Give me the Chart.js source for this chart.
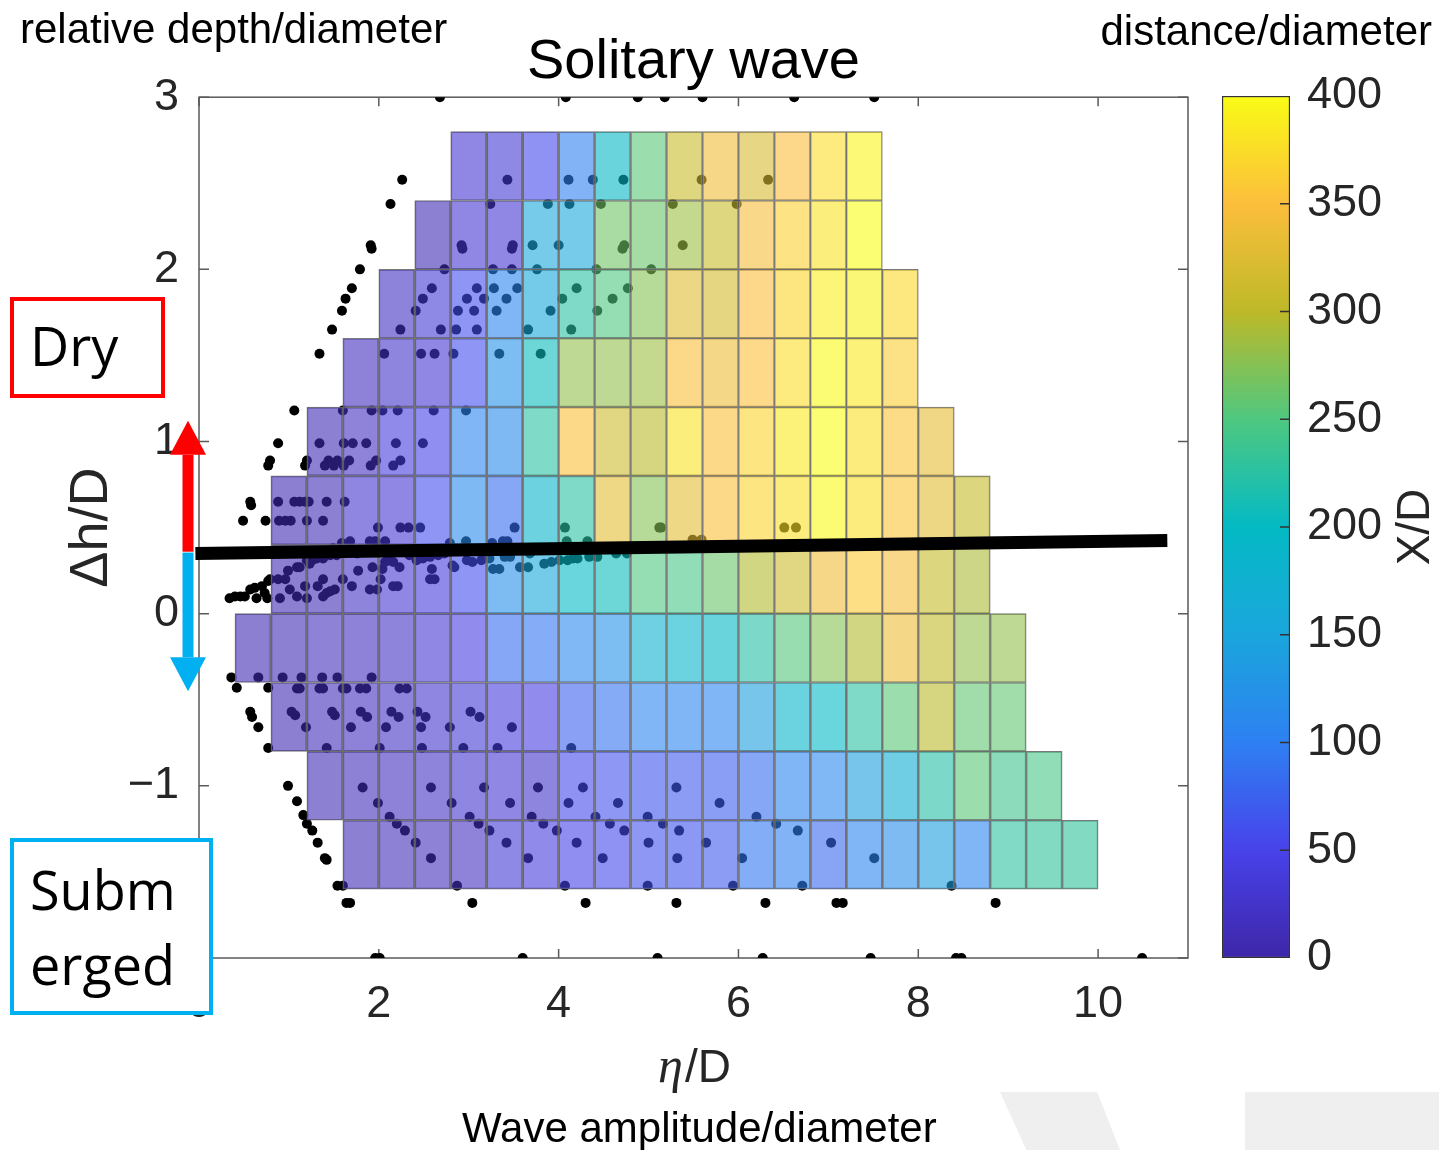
<!DOCTYPE html>
<html>
<head>
<meta charset="utf-8">
<title>Solitary wave</title>
<script src="https://cdn.jsdelivr.net/npm/chart.js@4.4.1/dist/chart.umd.min.js"></script>
<style>
  html, body { margin: 0; padding: 0; background: #fff; }
  #page { position: relative; width: 1439px; height: 1150px; overflow: hidden; font-family: 'Liberation Sans', Arial, sans-serif; }
  #page canvas { position: absolute; left: 0; top: 0; }
  .note { position: absolute; font-size: 42px; line-height: 48px; color: #000; white-space: nowrap; }
  .tag { position: absolute; box-sizing: border-box; background: #fff; color: #000; font-family: 'Open Sans', 'Noto Sans', sans-serif; font-size: 54px; }
  .deco { position: absolute; background: #efefef; }
</style>
</head>
<body>
<div id="page">
  <div class="deco" style="left:1000px;top:1092px;width:120px;height:58px;clip-path:polygon(0 0,81% 0,100% 100%,22% 100%);"></div>
  <div class="deco" style="left:1245px;top:1092px;width:194px;height:58px;"></div>
  <canvas id="mainChart" width="1439" height="1150"></canvas>
  <canvas id="colorbarChart" width="1439" height="1150"></canvas>
  <div class="note" style="left:20px;top:5px;">relative depth/diameter</div>
  <div class="note" style="right:7px;top:7px;">distance/diameter</div>
  <div class="note" style="left:462px;top:1104px;">Wave amplitude/diameter</div>
  <div class="tag" style="left:10px;top:297px;width:155px;height:101px;border:4px solid #ff0000;line-height:88px;padding-left:16px;">Dry</div>
  <div class="tag" style="left:10px;top:838px;width:203px;height:177px;border:4px solid #00b0f0;line-height:75px;padding:10px 0 0 16px;">Subm<br>erged</div>
</div>

<script>
Chart.defaults.font.family = "'Liberation Sans', Arial, sans-serif";
Chart.defaults.color = '#262626';

// ---- data ----
// cells are 0.4 x 0.4 bins, value = X/D
const binSize = 0.4;
const rowBottoms = [2.4, 2.0, 1.6, 1.2, 0.8, 0.4, 0.0, -0.4, -0.8, -1.2, -1.6];
const rowFirstX  = [2.8, 2.4, 2.0, 1.6, 1.2, 0.8, 0.8, 0.4, 0.8, 1.2, 1.6];

const xdRow24 = [30, 35, 55, 100, 195, 255, 310, 340, 320, 350, 375, 395];
const xdRow20 = [10, 30, 30, 150, 150, 265, 262, 285, 310, 345, 365, 380, 400];
const xdRow16 = [20, 35, 60, 105, 155, 225, 250, 275, 325, 318, 350, 370, 390, 393, 372];
const xdRow12 = [15, 25, 30, 60, 125, 205, 280, 280, 285, 348, 338, 352, 375, 398, 385, 362];
const xdRow08 = [10, 18, 40, 50, 105, 115, 225, 348, 312, 298, 380, 348, 368, 385, 400, 377, 355, 332];
const xdRow04 = [8, 10, 28, 30, 60, 115, 85, 185, 225, 330, 275, 330, 348, 368, 378, 398, 377, 355, 328, 305];
const xdRow00 = [8, 10, 22, 30, 40, 60, 120, 155, 200, 205, 250, 245, 262, 295, 312, 340, 360, 345, 305, 292];
const xdRowM04 = [8, 10, 14, 16, 22, 30, 42, 85, 90, 110, 125, 175, 190, 195, 222, 252, 275, 295, 338, 303, 280, 280];
const xdRowM08 = [8, 12, 16, 22, 28, 35, 40, 42, 75, 88, 105, 105, 108, 140, 190, 200, 225, 255, 298, 258, 258];
const xdRowM12 = [10, 12, 16, 22, 28, 30, 25, 55, 62, 65, 68, 72, 85, 105, 110, 140, 170, 222, 255, 240, 245];
const xdRowM16 = [10, 12, 14, 18, 35, 40, 50, 55, 62, 65, 68, 92, 100, 80, 105, 118, 140, 108, 228, 230, 230];
const rowValues = [xdRow24, xdRow20, xdRow16, xdRow12, xdRow08, xdRow04, xdRow00,
                   xdRowM04, xdRowM08, xdRowM12, xdRowM16];

// individual cases [eta/D, dh/D]
const edgePoints = [
  [2.68,3],[4.08,3],[4.88,3],[5.18,3],[5.6,3],[6.62,3],[7.51,3],
  [1.96,-2],[2.01,-2],[3.6,-2],[5.1,-2],[6.27,-2],[7.47,-2],[8.42,-2],[8.48,-2],[10.49,-2]
];
const upperPoints = [
  [2.26,2.52],[2.13,2.38],[1.91,2.14],[1.92,2.12],[1.79,2.0],[1.7,1.89],[1.63,1.83],[1.59,1.76],[1.48,1.65],
  [3.43,2.52],[4.11,2.52],[4.38,2.52],[4.72,2.52],[5.59,2.52],[6.33,2.52],
  [3.24,2.38],[3.88,2.38],[4.12,2.38],[4.47,2.38],[5.27,2.38],[5.98,2.38],
  [2.92,2.14],[2.93,2.12],[3.49,2.14],[3.48,2.12],[3.71,2.14],[4.0,2.14],[4.73,2.14],[4.71,2.12],[5.38,2.14],
  [2.73,2.0],[3.27,2.0],[3.48,2.0],[3.76,2.0],[4.42,2.0],[5.03,2.0],
  [2.59,1.89],[3.09,1.89],[3.28,1.89],[3.54,1.89],[4.2,1.89],[4.77,1.89],
  [2.49,1.83],[2.98,1.83],[3.17,1.83],[3.42,1.83],[4.04,1.83],[4.6,1.83],
  [2.41,1.76],[2.88,1.76],[3.06,1.76],[3.31,1.76],[3.91,1.76],[4.43,1.76],
  [2.24,1.65],[2.69,1.65],[2.86,1.65],[3.09,1.65],[3.66,1.65],[4.14,1.65],
  [1.34,1.51],[2.06,1.51],[2.47,1.51],[2.62,1.51],[2.83,1.51],[3.34,1.51],[3.8,1.51],
  [1.06,1.18],[1.6,1.18],[1.92,1.18],[2.04,1.18],[2.21,1.18],[2.61,1.18],[2.97,1.18],
  [0.88,0.99],[1.34,0.99],[1.61,0.99],[1.71,0.99],[1.86,0.99],[2.19,0.99],[2.49,0.99],
  [0.79,0.89],[0.77,0.86],[1.2,0.89],[1.18,0.86],[1.4,0.86],[1.44,0.89],[1.5,0.86],[1.54,0.89],
  [1.61,0.86],[1.67,0.89],[1.91,0.86],[1.97,0.89],[2.16,0.86],[2.24,0.89]
];
const bandPoints = [
  [0.57,0.65],[0.58,0.63],[0.88,0.65],[1.06,0.65],[1.12,0.65],[1.18,0.65],[1.22,0.65],[1.42,0.65],[1.62,0.65],
  [0.49,0.54],[0.74,0.54],[0.89,0.54],[0.96,0.54],[1.02,0.54],[1.2,0.54],[1.38,0.54],
  [1.99,0.5],[2.24,0.5],[2.33,0.5],[2.46,0.5],[3.51,0.5],[4.07,0.5],[5.12,0.5],[5.14,0.5],[6.51,0.5],[6.64,0.5],
  [5.49,0.43],[5.59,0.43],
  [1.68,0.42],[1.9,0.42],[1.96,0.42],[2.07,0.42],[2.97,0.42],[3.38,0.42],[3.43,0.42],[4.09,0.42],[4.32,0.42],
  [1.59,0.41],[1.49,0.38],[1.2,0.31],[1.23,0.29],[1.12,0.27],[1.09,0.27],[0.99,0.25],
  [1.26,0.31],[1.31,0.32],[1.38,0.32],[1.46,0.34],[1.53,0.34],[1.76,0.35],[1.9,0.37],
  [2.07,0.3],[2.12,0.31],[2.16,0.3],[2.34,0.34],[2.42,0.31],[2.49,0.32],[2.57,0.33],[2.66,0.34],[2.73,0.35],[2.79,0.41],
  [2.82,0.28],[2.84,0.27],[2.98,0.31],[3.04,0.3],[3.14,0.31],[3.23,0.32],[3.26,0.41],[3.27,0.26],[3.34,0.26],
  [3.4,0.33],[3.46,0.33],[3.57,0.27],[3.66,0.27],[3.68,0.35],[3.84,0.29],[3.92,0.3],[4.01,0.31],[4.1,0.31],
  [4.16,0.32],[4.21,0.32],[4.34,0.33],[4.43,0.33],[4.64,0.35],[4.76,0.35],
  [1.77,0.25],[1.93,0.27],[2.04,0.26],[2.23,0.27],[2.59,0.26],
  [1.38,0.2],[1.6,0.2],[2.02,0.2],[2.57,0.2],[2.62,0.2],
  [1.18,0.16],[1.32,0.16],[1.7,0.16],[2.16,0.16],[2.21,0.16],[1.01,0.14],
  [1.51,0.14],[1.46,0.13],[1.9,0.14],[1.98,0.14],
  [1.09,0.1],[1.2,0.09],[1.38,0.1],[1.42,0.12],
  [0.34,0.09],[0.4,0.1],[0.46,0.1],[0.51,0.1],[0.57,0.14],[0.62,0.15],[0.64,0.09],[0.7,0.16],[0.76,0.09],
  [0.77,0.19],[0.79,0.2],[0.88,0.2],[0.96,0.2],[0.9,0.09],[0.73,0.12]
];
const lowerPoints = [
  [0.36,-0.37],[0.42,-0.43],[0.77,-0.43],[0.57,-0.57],[0.59,-0.6],[0.66,-0.66],[0.77,-0.78],
  [0.99,-1.0],[1.09,-1.09],[1.16,-1.17],[1.2,-1.22],[1.26,-1.26],[1.32,-1.33],[1.4,-1.42],[1.42,-1.43],
  [1.54,-1.58],[1.6,-1.58],[1.64,-1.68],[1.68,-1.68],
  [0.66,-0.37],[0.93,-0.37],[1.14,-0.37],[1.37,-0.37],[1.54,-0.37],[1.92,-0.37],
  [1.09,-0.435],[1.12,-0.435],[1.34,-0.435],[1.38,-0.435],[1.6,-0.435],[1.64,-0.435],[1.79,-0.435],[1.86,-0.435],[2.23,-0.435],[2.31,-0.435],
  [1.03,-0.57],[1.07,-0.59],[1.48,-0.57],[1.51,-0.59],[1.8,-0.57],[1.87,-0.6],[2.14,-0.57],[2.22,-0.6],[2.43,-0.57],[2.52,-0.6],[3.02,-0.57],[3.12,-0.6],
  [1.19,-0.66],[1.69,-0.66],[2.08,-0.66],[2.47,-0.66],[2.79,-0.66],[3.48,-0.66],
  [1.42,-0.78],[2.01,-0.78],[2.48,-0.78],[2.94,-0.78],[3.32,-0.78],[4.14,-0.78],
  [1.82,-1.01],[2.58,-1.01],[3.17,-1.01],[3.77,-1.01],[4.27,-1.01],[5.31,-1.01],
  [1.99,-1.1],[2.81,-1.1],[3.46,-1.1],[4.11,-1.1],[4.66,-1.1],[5.79,-1.1],
  [2.12,-1.18],[3.01,-1.18],[3.7,-1.18],[4.41,-1.18],[4.99,-1.18],[6.2,-1.18],
  [2.2,-1.22],[3.11,-1.22],[3.83,-1.22],[4.57,-1.22],[5.16,-1.22],[6.42,-1.22],
  [2.29,-1.26],[3.23,-1.26],[3.98,-1.26],[4.73,-1.26],[5.34,-1.26],[6.66,-1.26],
  [2.41,-1.33],[3.42,-1.33],[4.2,-1.33],[5.0,-1.33],[5.64,-1.33],[7.03,-1.33],
  [2.58,-1.42],[3.66,-1.42],[4.49,-1.42],[5.32,-1.42],[6.04,-1.42],[7.51,-1.42],
  [2.87,-1.58],[4.07,-1.58],[4.99,-1.58],[5.94,-1.58],[6.71,-1.58],[8.37,-1.58],
  [3.04,-1.68],[4.3,-1.68],[5.31,-1.68],[6.3,-1.68],[7.09,-1.68],[7.16,-1.68],[8.86,-1.68]
];

// dry / submerged boundary
const boundaryX = [-0.04, 10.77];
const boundaryY = [0.35, 0.425];

// arrows (dh/D values)
const dryArrow = [0.36, 1.12];
const subArrow = [0.355, -0.45];

// colorbar
const xdMin = 0;
const xdMax = 400;

// parula-like colormap
const parulaStops = [
  [0.000, [62, 38, 168]],
  [0.125, [72, 66, 234]],
  [0.250, [46, 128, 242]],
  [0.375, [26, 166, 220]],
  [0.500, [4, 186, 196]],
  [0.625, [78, 200, 128]],
  [0.750, [190, 185, 40]],
  [0.875, [252, 190, 60]],
  [1.000, [249, 251, 21]]
];

const parula = (v) => {
  const t = Math.max(0, Math.min(1, (v - xdMin) / (xdMax - xdMin)));
  for (let i = 1; i < parulaStops.length; i++) {
    const [t1, c1] = parulaStops[i];
    if (t <= t1) {
      const [t0, c0] = parulaStops[i - 1];
      const f = (t - t0) / (t1 - t0);
      return c0.map((c, k) => Math.round(c + (c1[k] - c) * f));
    }
  }
  return parulaStops[parulaStops.length - 1][1];
};
const cellColor = (v) => {
  const [r, g, b] = parula(v);
  return `rgba(${r},${g},${b},0.6)`;
};
// keep bin centres identical across rows (avoid float drift)
const round3 = (v) => Math.round(v * 1000) / 1000;

// ---- main chart ----
const buildCellDatasets = () => rowValues.map((values, r) => ({
  type: 'bar',
  data: values.map((v, k) => ({
    x: round3(rowFirstX[r] + binSize * k + binSize / 2),
    y: [rowBottoms[r], round3(rowBottoms[r] + binSize)]
  })),
  backgroundColor: values.map(cellColor),
  borderColor: 'rgba(105,105,105,0.9)',
  borderWidth: 1,
  borderSkipped: false,
  barPercentage: 1,
  categoryPercentage: 1,
  grouped: false,
  order: 1
}));

const drawArrow = (ctx, x, yFrom, yTip, color) => {
  const dir = yTip < yFrom ? -1 : 1;
  const headLen = 34;
  const headBase = yTip - dir * headLen;
  ctx.fillStyle = color;
  ctx.fillRect(x - 5.5, Math.min(yFrom, headBase), 11, Math.abs(headBase - yFrom));
  ctx.beginPath();
  ctx.moveTo(x - 18, headBase);
  ctx.lineTo(x + 18, headBase);
  ctx.lineTo(x, yTip);
  ctx.closePath();
  ctx.fill();
};

const framePlugin = {
  id: 'frame',
  beforeDatasetsDraw(chart) {
    const {ctx, chartArea: a, scales: {x, y}} = chart;
    ctx.save();
    ctx.strokeStyle = '#5a5a5a';
    ctx.lineWidth = 1.5;
    ctx.strokeRect(a.left, a.top, a.right - a.left, a.bottom - a.top);
    ctx.beginPath();
    x.ticks.forEach(t => {
      const px = x.getPixelForValue(t.value);
      ctx.moveTo(px, a.bottom); ctx.lineTo(px, a.bottom - 9);
      ctx.moveTo(px, a.top); ctx.lineTo(px, a.top + 9);
    });
    y.ticks.forEach(t => {
      const py = y.getPixelForValue(t.value);
      ctx.moveTo(a.left, py); ctx.lineTo(a.left + 10, py);
      ctx.moveTo(a.right, py); ctx.lineTo(a.right - 10, py);
    });
    ctx.stroke();
    ctx.restore();
  },
  afterDraw(chart) {
    const {ctx, chartArea: a, scales: {y}} = chart;
    ctx.save();
    // x axis title: eta/D
    const cx = (a.left + a.right) / 2;
    const base = a.bottom + 124;
    ctx.fillStyle = '#262626';
    ctx.textBaseline = 'alphabetic';
    ctx.font = "italic 50px 'Liberation Serif', serif";
    const wEta = ctx.measureText('\u03B7').width;
    ctx.font = "46px 'Liberation Sans', Arial, sans-serif";
    const wRest = ctx.measureText('/D').width;
    const x0 = cx - (wEta + wRest) / 2;
    ctx.font = "italic 50px 'Liberation Serif', serif";
    ctx.fillText('\u03B7', x0, base);
    ctx.font = "46px 'Liberation Sans', Arial, sans-serif";
    ctx.fillText('/D', x0 + wEta + 2, base);
    // dry / submerged arrows
    const ax = a.left - 11;
    drawArrow(ctx, ax, y.getPixelForValue(dryArrow[0]), y.getPixelForValue(dryArrow[1]), '#ff0000');
    drawArrow(ctx, ax, y.getPixelForValue(subArrow[0]), y.getPixelForValue(subArrow[1]), '#00b0f0');
    ctx.restore();
  }
};

const renderMainChart = () => {
  const dots = [...edgePoints, ...upperPoints, ...bandPoints, ...lowerPoints]
    .map(([x, y]) => ({x, y}));

  new Chart('mainChart', {
    type: 'scatter',
    data: {
      datasets: [
        ...buildCellDatasets(),
        {
          type: 'scatter',
          data: dots,
          backgroundColor: '#000',
          borderWidth: 0,
          pointRadius: 5,
          pointHoverRadius: 5,
          order: 2
        },
        {
          type: 'line',
          data: boundaryX.map((x, i) => ({x, y: boundaryY[i]})),
          borderColor: '#000',
          borderWidth: 13,
          borderCapStyle: 'butt',
          pointRadius: 0,
          fill: false,
          clip: false,
          order: 0
        }
      ]
    },
    options: {
      responsive: false,
      animation: false,
      devicePixelRatio: 1,
      layout: { padding: { left: 0, top: 0, right: 251, bottom: 92 } },
      plugins: {
        legend: { display: false },
        tooltip: { enabled: false },
        title: {
          display: true,
          text: 'Solitary wave',
          fullSize: false,
          color: '#000',
          font: { size: 56, weight: 'normal' },
          padding: { top: 29, bottom: 1 }
        }
      },
      scales: {
        x: {
          type: 'linear',
          min: 0,
          max: 11,
          offset: false,
          grid: { display: false, drawTicks: false, offset: false },
          border: { display: false },
          ticks: { stepSize: 2, includeBounds: false, padding: 20, font: { size: 45 }, color: '#262626' },
          afterFit: (s) => { s.height = 100; }
        },
        y: {
          type: 'linear',
          min: -2,
          max: 3,
          grid: { display: false, drawTicks: false },
          border: { display: false },
          ticks: {
            stepSize: 1,
            padding: 20,
            font: { size: 45 },
            color: '#262626',
            callback: (v) => String(v).replace('-', '\u2212')
          },
          title: {
            display: true,
            text: '\u0394h/D',
            color: '#262626',
            font: { size: 54 },
            padding: { top: 60, bottom: 0 }
          },
          afterFit: (s) => { s.width = 199; }
        }
      }
    },
    plugins: [framePlugin]
  });
};

// ---- colorbar ----
const colorbarPlugin = {
  id: 'colorbarDecor',
  afterDatasetsDraw(chart) {
    const {ctx, chartArea: a, scales: {y}} = chart;
    ctx.save();
    ctx.strokeStyle = '#333';
    ctx.lineWidth = 1.5;
    ctx.beginPath();
    y.ticks.forEach(t => {
      if (t.value === xdMin || t.value === xdMax) return;
      const py = y.getPixelForValue(t.value);
      ctx.moveTo(a.right, py); ctx.lineTo(a.right - 10, py);
    });
    ctx.stroke();
    ctx.translate(1416, (a.top + a.bottom) / 2);
    ctx.rotate(-Math.PI / 2);
    ctx.fillStyle = '#262626';
    ctx.font = "46px 'Liberation Sans', Arial, sans-serif";
    ctx.textAlign = 'center';
    ctx.textBaseline = 'middle';
    ctx.fillText('X/D', 0, 0);
    ctx.restore();
  }
};

const renderColorbar = () => {
  new Chart('colorbarChart', {
    type: 'bar',
    data: {
      labels: ['X/D'],
      datasets: [{
        data: [[xdMin, xdMax]],
        backgroundColor: (c) => {
          const ch = c.chart;
          const y = ch.scales.y;
          if (!ch.chartArea || !y) return '#888';
          const g = ch.ctx.createLinearGradient(0, y.getPixelForValue(xdMin), 0, y.getPixelForValue(xdMax));
          parulaStops.forEach(([t, [r, gg, b]]) => g.addColorStop(t, `rgb(${r},${gg},${b})`));
          return g;
        },
        borderColor: '#333',
        borderWidth: 1.5,
        borderSkipped: false,
        barPercentage: 1,
        categoryPercentage: 1
      }]
    },
    options: {
      responsive: false,
      animation: false,
      devicePixelRatio: 1,
      layout: { padding: { left: 1222, top: 96, right: 0, bottom: 192 } },
      plugins: { legend: { display: false }, tooltip: { enabled: false } },
      scales: {
        x: { display: false },
        y: {
          position: 'right',
          min: xdMin,
          max: xdMax,
          grid: { display: false, drawTicks: false },
          border: { display: false },
          ticks: { stepSize: 50, padding: 17, font: { size: 45 }, color: '#262626' },
          afterFit: (s) => { s.width = 149; }
        }
      }
    },
    plugins: [colorbarPlugin]
  });
};

renderMainChart();
renderColorbar();
</script>
</body>
</html>
